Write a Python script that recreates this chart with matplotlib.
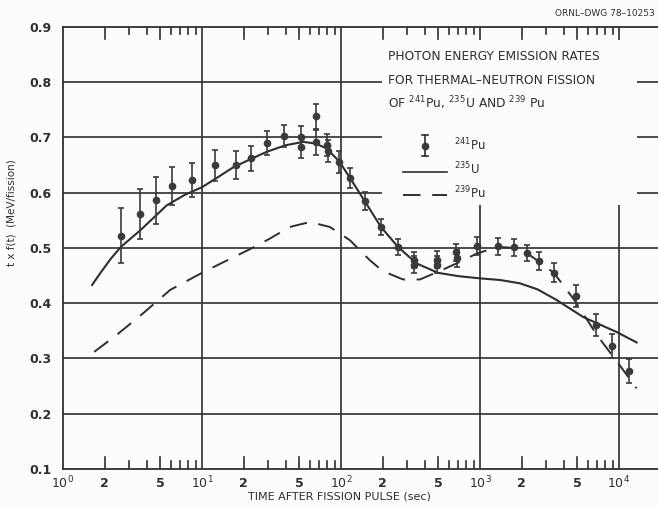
from matplotlib import pyplot as plt
from matplotlib.patches import Rectangle
from matplotlib.ticker import FixedLocator
import numpy as np

# 241Pu measured points (time in s, t*f(t) in MeV/fission, error)
pu241_t = [2.61, 3.6, 4.64, 6.08, 8.43, 12.4, 17.5, 22.4, 29.2, 38.7, 51.3, 51.5,
           66.4, 65.7, 79.7, 80.5, 97.2, 116, 148, 194, 257, 336, 338, 488, 490,
           676, 678, 956, 1356, 1766, 2189, 2672, 3408, 4900, 6870, 8950, 11800]
pu241_y = [0.522, 0.561, 0.586, 0.612, 0.623, 0.650, 0.650, 0.662, 0.690, 0.702, 0.701, 0.682,
           0.738, 0.691, 0.686, 0.676, 0.656, 0.627, 0.585, 0.538, 0.502, 0.478, 0.470, 0.479, 0.470,
           0.492, 0.481, 0.503, 0.503, 0.501, 0.491, 0.477, 0.455, 0.413, 0.360, 0.322, 0.277]
pu241_err = [0.05, 0.045, 0.042, 0.035, 0.03, 0.028, 0.025, 0.022, 0.022, 0.02, 0.02, 0.02,
             0.022, 0.022, 0.02, 0.02, 0.02, 0.018, 0.016, 0.015, 0.015, 0.015, 0.015, 0.015, 0.015,
             0.015, 0.015, 0.016, 0.015, 0.015, 0.015, 0.016, 0.017, 0.02, 0.02, 0.022, 0.022]

# 235U curve (solid)
u235_t = [1.62, 1.85, 2.2, 2.61, 3.1, 3.6, 4.5, 5.57, 7.5, 10, 13, 16.8, 22, 29.2, 40, 53.6,
          66, 78.8, 97, 116, 148, 194, 257, 350, 500, 700, 1000, 1400, 1940, 2600,
          3550, 5530, 7500, 9600, 13400]
u235_y = [0.433, 0.454, 0.480, 0.502, 0.518, 0.532, 0.555, 0.577, 0.596, 0.610, 0.628, 0.646,
          0.660, 0.674, 0.686, 0.692, 0.689, 0.680, 0.657, 0.627, 0.585, 0.538, 0.502, 0.472,
          0.455, 0.449, 0.445, 0.442, 0.436, 0.425, 0.406, 0.375, 0.360, 0.348, 0.329]

# 239Pu curve (dashed)
pu239_t = [1.68, 2.5, 3.78, 5.9, 10, 15, 22.2, 30.8, 42.8, 59.9, 83.2, 116, 161, 200, 280,
           370, 500, 720, 950, 1350, 1770, 2190, 2670, 3400, 4800, 6960, 9900, 13400]
pu239_y = [0.312, 0.345, 0.382, 0.424, 0.455, 0.477, 0.498, 0.517, 0.538, 0.547, 0.538, 0.514,
           0.478, 0.458, 0.443, 0.443, 0.457, 0.475, 0.490, 0.502, 0.500, 0.490, 0.475, 0.455,
           0.405, 0.342, 0.291, 0.246]

ink = '#2e2e2e'
bg = '#fcfcfa'

fig = plt.figure(figsize=(6.58, 5.07), dpi=100, facecolor=bg)
ax = fig.add_axes([0.0957, 0.075, 0.9043, 0.8718], facecolor=bg)
ax.set_xscale('log')
ax.set_xlim(1, 19090)
ax.set_ylim(0.1, 0.9)

for s in ['left', 'bottom', 'top']:
    ax.spines[s].set_color(ink)
    ax.spines[s].set_linewidth(1.3)
ax.spines['right'].set_visible(False)

# grid: decades and every 0.1
for d in [10, 100, 1000, 10000]:
    ax.axvline(d, color=ink, lw=1.2, zorder=1)
for v in np.arange(0.2, 0.9, 0.1):
    ax.axhline(v, color=ink, lw=1.2, zorder=1)

# blank block behind title/legend
box_x0, box_x1 = (382 - 63) / 595, (637 - 63) / 595
box_y0, box_y1 = (469 - 205) / 442, (469 - 40) / 442
ax.add_patch(Rectangle((box_x0, box_y0), box_x1 - box_x0, box_y1 - box_y0,
                       transform=ax.transAxes, facecolor=bg, edgecolor='none', zorder=2))

# minor ticks inside top and bottom
ax.xaxis.set_major_locator(FixedLocator([1, 10, 100, 1000, 10000]))
ax.tick_params(axis='x', which='major', length=0, labelsize=9, colors=ink, pad=4)
ax.set_xticklabels([r'$10^0$', r'$10^1$', r'$10^2$', r'$10^3$', r'$10^4$'])
long_t, short_t = [], []
for d in [1, 10, 100, 1000]:
    long_t += [2 * d, 5 * d]
    short_t += [3 * d, 4 * d, 6 * d, 7 * d, 8 * d, 9 * d]
for t in long_t + short_t:
    ln = 0.028 if t in long_t else 0.017
    ax.plot([t, t], [0, ln], transform=ax.get_xaxis_transform(), color=ink, lw=1.2, zorder=3)
    ax.plot([t, t], [1, 1 - ln], transform=ax.get_xaxis_transform(), color=ink, lw=1.2, zorder=3)
ax.xaxis.set_minor_locator(FixedLocator(long_t))
ax.xaxis.set_minor_formatter(plt.FixedFormatter(['2', '5'] * 4))
ax.tick_params(axis='x', which='minor', length=0, labelsize=9, colors=ink, pad=6)
for lab in ax.get_xticklabels(which='both'):
    lab.set_fontweight('bold')

ax.set_yticks(np.arange(0.1, 0.91, 0.1))
ax.set_yticklabels(['%.1f' % v for v in np.arange(0.1, 0.91, 0.1)])
ax.tick_params(axis='y', length=0, labelsize=9, colors=ink, pad=8)
for lab in ax.get_yticklabels():
    lab.set_fontweight('bold')

# curves and points
ax.plot(u235_t, u235_y, color=ink, lw=1.5, zorder=4)
ax.plot(pu239_t, pu239_y, color=ink, lw=1.4, dashes=(9, 6), zorder=4)
ax.errorbar(pu241_t, pu241_y, yerr=pu241_err, fmt='o', ms=4.5, color='#3a3a3a',
            ecolor='#3a3a3a', elinewidth=1.2, capsize=2, capthick=1.2, zorder=5)

ax.set_xlabel('TIME AFTER FISSION PULSE (sec)', fontsize=8, color=ink, labelpad=2)
ax.xaxis.set_label_coords(0.465, -0.05)
ax.set_ylabel('t x f(t)  (MeV/fission)', fontsize=7.5, color=ink, labelpad=8)
ax.yaxis.set_label_coords(-0.078, 0.58)

# title block
for i, line in enumerate(['PHOTON ENERGY EMISSION RATES', 'FOR THERMAL\u2013NEUTRON FISSION',
                          r'OF $^{241}$Pu, $^{235}$U AND $^{239}$ Pu']):
    fig.text(388 / 658, 1 - (57 + 23 * i) / 507, line, fontsize=8.8, color=ink,
             va='center', ha='left', zorder=6)

# legend drawn by hand
fx = lambda px: px / 658
fy = lambda py: 1 - py / 507
fig.add_artist(plt.Line2D([fx(425), fx(425)], [fy(135), fy(156)], color=ink, lw=1.2))
fig.add_artist(plt.Line2D([fx(422), fx(428)], [fy(135), fy(135)], color=ink, lw=1.2))
fig.add_artist(plt.Line2D([fx(422), fx(428)], [fy(156), fy(156)], color=ink, lw=1.2))
fig.add_artist(plt.Line2D([fx(425)], [fy(146)], marker='o', ms=4.5, color='#3a3a3a'))
fig.add_artist(plt.Line2D([fx(403), fx(447)], [fy(172), fy(172)], color=ink, lw=1.2))
fig.add_artist(plt.Line2D([fx(403), fx(447)], [fy(195), fy(195)], color=ink, lw=1.4,
                          dashes=(9, 6)))
fig.text(fx(454), fy(145), r'$^{241}$Pu', fontsize=8.5, color=ink, va='center')
fig.text(fx(454), fy(169), r'$^{235}$U', fontsize=8.5, color=ink, va='center')
fig.text(fx(454), fy(193), r'$^{239}$Pu', fontsize=8.5, color=ink, va='center')

fig.text(fx(655), fy(14), 'ORNL\u2013DWG 78\u201310253', fontsize=6.5, color=ink,
         ha='right', va='center')

fig.savefig('out.png', dpi=100, facecolor=bg)
